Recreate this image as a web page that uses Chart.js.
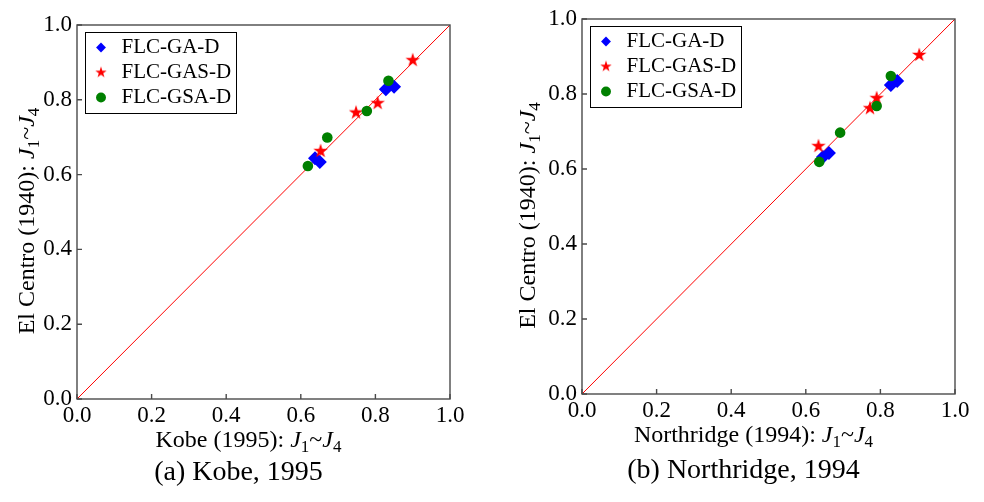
<!DOCTYPE html>
<html>
<head>
<meta charset="utf-8">
<script src="https://cdn.jsdelivr.net/npm/chart.js@4"></script>
<style>
  html, body { margin: 0; padding: 0; background: #fff; }
  #wrap { position: relative; width: 984px; height: 502px; }
  .panel { position: absolute; top: 0; width: 492px; height: 502px; }
</style>
</head>
<body>
<div id="wrap">
  <div class="panel" style="left:0"><canvas id="chartA" width="492" height="502"></canvas></div>
  <div class="panel" style="left:492px"><canvas id="chartB" width="492" height="502"></canvas></div>
</div>
<script>
// legend names and axis ticks
const seriesNames = ['FLC-GA-D', 'FLC-GAS-D', 'FLC-GSA-D'];
const tickValues = [0, 0.2, 0.4, 0.6, 0.8, 1.0];
const diagonal = [0, 1];

// (a) Kobe 1995 (x) vs El Centro 1940 (y)
const kobeGaX  = [0.638, 0.651, 0.828, 0.850];
const kobeGaY  = [0.644, 0.634, 0.828, 0.835];
const kobeGasX = [0.653, 0.748, 0.806, 0.900];
const kobeGasY = [0.663, 0.766, 0.791, 0.906];
const kobeGsaX = [0.619, 0.671, 0.777, 0.835];
const kobeGsaY = [0.623, 0.699, 0.770, 0.851];

// (b) Northridge 1994 (x) vs El Centro 1940 (y)
const northGaX  = [0.646, 0.662, 0.828, 0.845];
const northGaY  = [0.632, 0.643, 0.824, 0.835];
const northGasX = [0.634, 0.772, 0.790, 0.904];
const northGasY = [0.661, 0.762, 0.789, 0.904];
const northGsaX = [0.636, 0.692, 0.790, 0.828];
const northGsaY = [0.619, 0.697, 0.768, 0.848];

const FONT = '"Liberation Serif", "Times New Roman", serif';
const LEGEND_SIZE = 21;
const LEGEND_PAD = 4;
const LEGEND_BOX = 20;

// filled five point star used as marker
function makeStar(outer, color) {
    const size = Math.ceil(outer * 2 + 2);
    const c = document.createElement('canvas');
    c.width = size;
    c.height = size;
    const g = c.getContext('2d');
    const inner = outer * 0.382;
    g.beginPath();
    for (let i = 0; i < 10; i++) {
        const r = i % 2 ? inner : outer;
        const a = -Math.PI / 2 + i * Math.PI / 5;
        g.lineTo(size / 2 + r * Math.cos(a), size / 2 + r * Math.sin(a));
    }
    g.closePath();
    g.fillStyle = color;
    g.fill();
    return c;
}
const starBig = makeStar(7.6, '#ff0000');
const starSmall = makeStar(6, '#ff0000');

function toPoints(xs, ys) {
    return xs.map((x, i) => ({ x: x, y: ys[i] }));
}

function axisLabel(prefix) {
    return [
        { text: prefix },
        { text: 'J', italic: true },
        { text: '1', sub: true },
        { text: '~' },
        { text: 'J', italic: true },
        { text: '4', sub: true }
    ];
}

// draw text with italic / subscript parts, centered on x
function drawRich(ctx, segs, x, y, size, rotate) {
    ctx.save();
    ctx.translate(x, y);
    if (rotate) ctx.rotate(-Math.PI / 2);
    ctx.textBaseline = 'alphabetic';
    ctx.textAlign = 'left';
    ctx.fillStyle = '#000';
    const fontOf = s => (s.italic ? 'italic ' : '') + (s.sub ? Math.round(size * 0.7) : size) + 'px ' + FONT;
    let total = 0;
    segs.forEach(s => { ctx.font = fontOf(s); s.w = ctx.measureText(s.text).width; total += s.w; });
    let cx = -total / 2;
    segs.forEach(s => {
        ctx.font = fontOf(s);
        ctx.fillText(s.text, cx, s.sub ? size * 0.22 : 0);
        cx += s.w;
    });
    ctx.restore();
}

// frame round the plot, inward ticks, titles, caption and legend frame
const decorPlugin = {
    id: 'decor',
    afterLayout(chart) {
        const a = chart.chartArea;
        chart.legend.left = a.left + 10;
        chart.legend.top = a.top + 8;
    },
    afterDatasetsDraw(chart) {
        const ctx = chart.ctx;
        const a = chart.chartArea;
        const xs = chart.scales.x, ys = chart.scales.y;
        ctx.save();
        ctx.strokeStyle = '#4a4a4a';
        ctx.lineWidth = 1.4;
        ctx.beginPath();
        tickValues.forEach(v => {
            const px = xs.getPixelForValue(v);
            ctx.moveTo(px, a.bottom);
            ctx.lineTo(px, a.bottom - 5);
            const py = ys.getPixelForValue(v);
            ctx.moveTo(a.left, py);
            ctx.lineTo(a.left + 5, py);
        });
        ctx.stroke();
        ctx.strokeRect(a.left, a.top, a.right - a.left, a.bottom - a.top);
        ctx.restore();
    },
    afterDraw(chart) {
        const ctx = chart.ctx;
        const a = chart.chartArea;
        const o = chart.options.plugins.decor;
        const midX = (a.left + a.right) / 2;
        const midY = (a.top + a.bottom) / 2;
        drawRich(ctx, axisLabel(o.xTitle), midX - 15, a.bottom + 48, 24, false);
        drawRich(ctx, axisLabel('El Centro (1940): '), o.yTitleX, midY + 9, 24, true);

        ctx.save();
        ctx.font = '28px ' + FONT;
        ctx.fillStyle = '#000';
        ctx.textAlign = 'center';
        ctx.textBaseline = 'alphabetic';
        ctx.fillText(o.caption, midX - 25, o.captionY);

        // legend frame
        const lg = chart.legend;
        ctx.font = LEGEND_SIZE + 'px ' + FONT;
        let maxW = 0;
        lg.legendItems.forEach(it => { maxW = Math.max(maxW, ctx.measureText(it.text).width); });
        const textStart = lg.left + LEGEND_PAD + LEGEND_BOX + LEGEND_SIZE / 2;
        const rows = lg.legendItems.length;
        const h = LEGEND_PAD * 2 + rows * LEGEND_SIZE + (rows - 1) * LEGEND_PAD + 2;
        ctx.strokeStyle = '#000';
        ctx.lineWidth = 1;
        ctx.strokeRect(Math.round(lg.left - 2) + 0.5, Math.round(lg.top - 1) + 0.5,
            Math.round(textStart + maxW + 5 - lg.left + 2), h);
        ctx.restore();
    }
};

function makeChart(canvasId, gaX, gaY, gasX, gasY, gsaX, gsaY, xTitle, caption, geom) {
    const ctx = document.getElementById(canvasId).getContext('2d');

    const data = {
        datasets: [
            {
                label: seriesNames[0],
                data: toPoints(gaX, gaY),
                backgroundColor: '#0000ff',
                borderColor: '#0000ff',
                pointStyle: 'rectRot',
                pointRadius: 7,
                pointBorderWidth: 0,
                order: 3
            },
            {
                label: seriesNames[1],
                data: toPoints(gasX, gasY),
                backgroundColor: '#ff0000',
                borderColor: '#ff0000',
                pointStyle: starBig,
                pointRadius: 7,
                pointBorderWidth: 0,
                order: 2
            },
            {
                label: seriesNames[2],
                data: toPoints(gsaX, gsaY),
                backgroundColor: '#008000',
                borderColor: '#008000',
                pointStyle: 'circle',
                pointRadius: 5.3,
                pointBorderWidth: 0,
                order: 1
            },
            {
                label: 'diagonal',
                type: 'line',
                data: toPoints(diagonal, diagonal),
                borderColor: '#ff0000',
                borderWidth: 1,
                pointRadius: 0,
                fill: false,
                order: 10
            }
        ]
    };

    const tickFont = { family: FONT, size: 23 };

    new Chart(ctx, {
        type: 'scatter',
        data: data,
        plugins: [decorPlugin],
        options: {
            responsive: false,
            animation: false,
            devicePixelRatio: 1,
            events: [],
            layout: { padding: { left: 0, top: geom.top, right: geom.right, bottom: 0 } },
            scales: {
                x: {
                    type: 'linear',
                    min: 0,
                    max: 1,
                    afterFit: s => { s.height = geom.xAxisH; },
                    afterBuildTicks: s => { s.ticks = tickValues.map(v => ({ value: v })); },
                    grid: { display: false, drawTicks: false },
                    border: { display: false },
                    ticks: {
                        padding: 3,
                        maxRotation: 0,
                        autoSkip: false,
                        color: '#000',
                        font: tickFont,
                        callback: v => v.toFixed(1)
                    }
                },
                y: {
                    type: 'linear',
                    min: 0,
                    max: 1,
                    afterFit: s => { s.width = geom.yAxisW; },
                    afterBuildTicks: s => { s.ticks = tickValues.map(v => ({ value: v })); },
                    grid: { display: false, drawTicks: false },
                    border: { display: false },
                    ticks: {
                        padding: 5,
                        autoSkip: false,
                        color: '#000',
                        font: tickFont,
                        callback: v => v.toFixed(1)
                    }
                }
            },
            plugins: {
                decor: { xTitle: xTitle, caption: caption, yTitleX: geom.yTitleX, captionY: geom.captionY },
                tooltip: { enabled: false },
                legend: {
                    position: 'chartArea',
                    align: 'start',
                    labels: {
                        usePointStyle: true,
                        boxWidth: LEGEND_BOX,
                        boxHeight: 7,
                        padding: LEGEND_PAD,
                        color: '#000',
                        font: { family: FONT, size: LEGEND_SIZE },
                        filter: item => item.datasetIndex < 3,
                        sort: (p, q) => p.datasetIndex - q.datasetIndex,
                        generateLabels: chart => {
                            const items = Chart.defaults.plugins.legend.labels.generateLabels(chart);
                            items.forEach(it => { if (it.pointStyle === starBig) it.pointStyle = starSmall; });
                            return items;
                        }
                    }
                }
            }
        }
    });
}

makeChart('chartA', kobeGaX, kobeGaY, kobeGasX, kobeGasY, kobeGsaX, kobeGsaY,
    'Kobe (1995): ', '(a) Kobe, 1995',
    { yAxisW: 77, right: 42, top: 25, xAxisH: 103, yTitleX: 34, captionY: 480 });

makeChart('chartB', northGaX, northGaY, northGasX, northGasY, northGsaX, northGsaY,
    'Northridge (1994): ', '(b) Northridge, 1994',
    { yAxisW: 90, right: 29, top: 19, xAxisH: 108, yTitleX: 43, captionY: 478 });
</script>
</body>
</html>
